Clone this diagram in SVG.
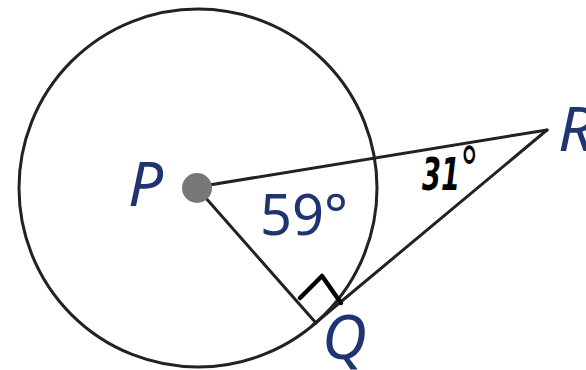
<svg xmlns="http://www.w3.org/2000/svg" width="586" height="370" viewBox="0 0 586 370">
<style>
.ln{stroke:#222;stroke-width:3;fill:none;stroke-linecap:round}
.lbl{font-family:"Noto Sans","Open Sans",sans-serif;font-style:italic;fill:#1f3470;font-size:62px}
.ang{font-family:"Noto Sans","Open Sans",sans-serif;fill:#1f3470;font-size:56px}
.hand{font-family:"DejaVu Sans",sans-serif;font-weight:bold;font-style:italic;fill:#000;font-size:44px}
</style>
<g id="circle">
<circle cx="198" cy="188" r="179" class="ln" stroke-width="3.5"/>
</g>
<g id="connectors">
<line x1="197" y1="187" x2="547" y2="130" class="ln"/>
<line x1="197" y1="188" x2="316" y2="323" class="ln"/>
<line x1="547" y1="130" x2="313" y2="325" class="ln"/>
<path d="M300,298 L322,276 L341,303" fill="none" stroke="#000" stroke-width="4.5" stroke-linejoin="round" stroke-linecap="round"/>
</g>
<g id="P">
<circle cx="197" cy="188" r="15" fill="#777"/>
<text x="128" y="206" class="lbl">P</text>
</g>
<g id="Q">
<text x="322" y="359" class="lbl">Q</text>
</g>
<g id="R">
<text x="558" y="151" class="lbl">R</text>
</g>
<g id="angles">
<text x="260" y="235" class="ang">59°</text>
<text transform="translate(422,190) scale(0.62,1)" class="hand">31<tspan font-size="60" font-weight="normal">°</tspan></text>
</g>
</svg>
